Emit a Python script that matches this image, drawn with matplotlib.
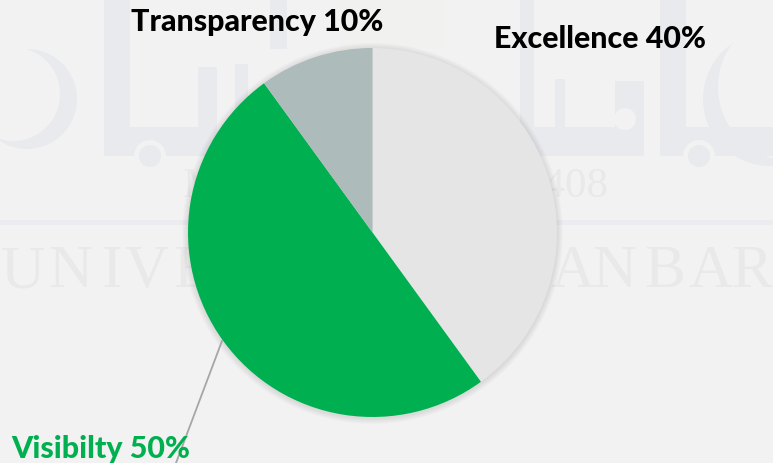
import matplotlib
matplotlib.use("Agg")
import matplotlib.pyplot as plt
from matplotlib.patches import Circle, Rectangle

labels = ["Excellence", "Visibilty", "Transparency"]
values = [40, 50, 10]
colors = ["#E5E5E5", "#00B050", "#AEBBBB"]
W, H = 773, 464
BG = "#F2F2F2"
WM = "#E9EAED"
WT = "#E9E9E9"

fig = plt.figure(figsize=(W / 100, H / 100), dpi=100, facecolor=BG)
ax = fig.add_axes([0, 0, 1, 1])
ax.set_facecolor(BG)


def Y(y):
    return H - y


def rect(x0, x1, y0, y1, c=WM, z=1):
    ax.add_patch(Rectangle((x0, Y(y1)), x1 - x0, y1 - y0, color=c, lw=0, zorder=z))


def disc(x, y, r, c=WM, z=1):
    ax.add_patch(Circle((x, Y(y)), r, color=c, lw=0, zorder=z))


# faint watermark: emblem shapes
rect(340, 445, 0, 50, "#F1F1F0")
disc(27, 100, 50)
disc(13, 95, 47, BG, 1.1)
rect(104, 130, 0, 157)
rect(104, 217, 128, 157)
rect(198, 217, 68, 130)
rect(235, 248, 65, 130)
rect(270, 287, 0, 50)
disc(150, 157, 16, BG, 1.1)
disc(150, 157, 11, WM, 1.2)
rect(520, 534, 0, 130)
rect(520, 644, 128, 157)
rect(555, 565, 80, 130)
rect(615, 644, 82, 130)
disc(625, 120, 11, BG, 1.1)
rect(660, 686, 0, 157)
rect(660, 773, 128, 157)
disc(770, 100, 67)
disc(792, 88, 74, BG, 1.1)
rect(660, 773, 128, 157, WM, 1.2)
disc(699, 157, 16, BG, 1.3)
disc(699, 157, 11, WM, 1.4)
rect(0, 773, 220.5, 226, "#ECECF0")

# faint watermark: wordmark
for ch, x in [("U", 1), ("N", 48), ("I", 102), ("V", 124), ("E", 173),
              ("A", 550), ("N", 592), ("B", 644), ("A", 688), ("R", 731)]:
    ax.text(x, Y(287), ch, family="Liberation Serif", fontsize=44, color=WT,
            va="baseline", ha="left", zorder=1.5)
ax.text(608, Y(197), "1408", family="Liberation Serif", fontsize=31, color=WT,
        va="baseline", ha="right", zorder=1.5)
ax.text(183, Y(197), "M", family="Liberation Serif", fontsize=31, color=WT,
        va="baseline", ha="left", zorder=1.5)

# soft shadow
cx, cy, r = 372.5, 233.5, 184.5
for i in range(6):
    ax.add_patch(Circle((cx, Y(cy + 1)), r + 6 - i, color="#000000", alpha=0.016, lw=0, zorder=2))

# leader line
ax.plot([222, 176], [Y(342), Y(464)], color="#A6A6A6", lw=1.3, zorder=2)

ax.pie(values, colors=colors, startangle=90, counterclock=False, center=(cx, Y(cy)),
       radius=r, wedgeprops=dict(linewidth=0, zorder=3))

ax.set_xlim(0, W)
ax.set_ylim(0, H)
ax.set_aspect("equal")
ax.axis("off")

font = dict(family="Lato", fontweight="black", fontsize=21.9, va="baseline", ha="left", zorder=5)
ax.text(131, Y(31), f"{labels[2]} {values[2]}%", color="#000000", **font)
ax.text(494, Y(48), f"{labels[0]} {values[0]}%", color="#000000", **font)
ax.text(11, Y(458), f"{labels[1]} {values[1]}%", color="#00B050", **font)

fig.savefig("out.png", dpi=100, facecolor=BG)
